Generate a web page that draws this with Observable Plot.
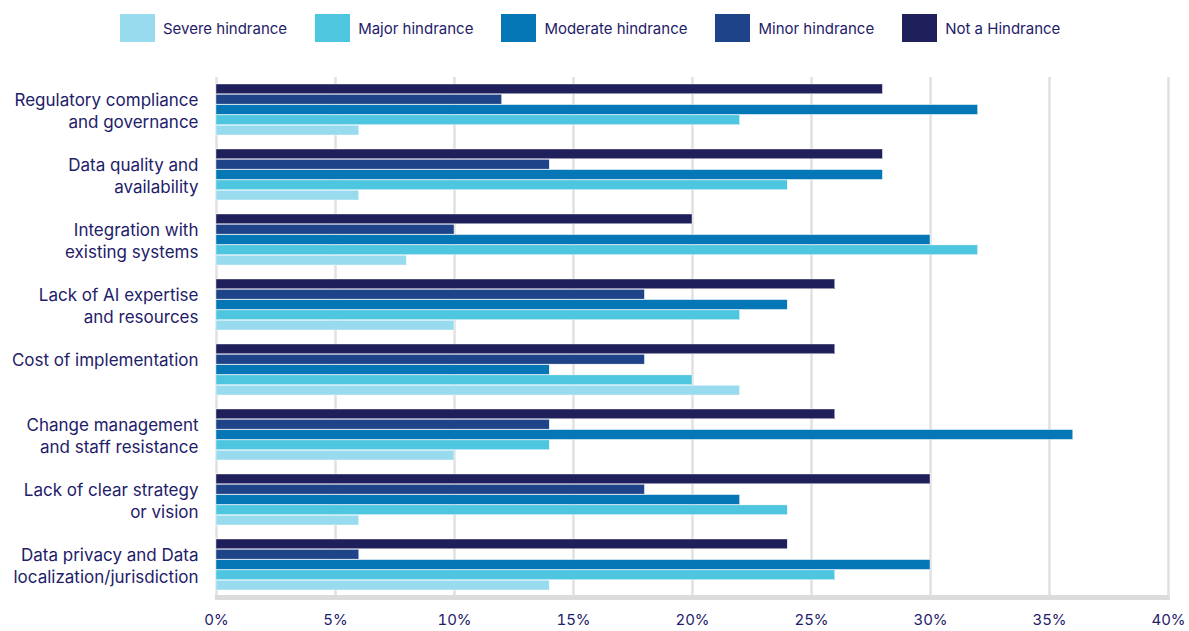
<!DOCTYPE html>
<html>
<head>
<meta charset="utf-8">
<script src="https://cdn.jsdelivr.net/npm/d3@7"></script>
<script src="https://cdn.jsdelivr.net/npm/@observablehq/plot@0.6"></script>
<style>
  html, body { margin: 0; padding: 0; background: #fff; }
  body { width: 1189px; height: 631px; overflow: hidden; position: relative; font-family: Inter, "Noto Sans", sans-serif; color: #1e2069; }
  #legend { display: flex; align-items: center; height: 56px; padding-left: 120px; box-sizing: border-box; }
  .item { display: flex; align-items: center; margin-right: 28px; font-size: 15px; }
  .sw { width: 35px; height: 28px; margin-right: 8px; }
  #chart svg { display: block; }
  #baseline { position: absolute; left: 215px; width: 955px; top: 597px; height: 3px; background: #dcdcdc; z-index: 5; }
</style>
</head>
<body>
<div id="legend"></div>
<div id="chart"></div>
<div id="baseline"></div>
<script>
const categories = [
  "Regulatory compliance\nand governance",
  "Data quality and\navailability",
  "Integration with\nexisting systems",
  "Lack of AI expertise\nand resources",
  "Cost of implementation\n",
  "Change management\nand staff resistance",
  "Lack of clear strategy\nor vision",
  "Data privacy and Data\nlocalization/jurisdiction"
];
const seriesNames = ["Severe hindrance", "Major hindrance", "Moderate hindrance", "Minor hindrance", "Not a Hindrance"];
const seriesColors = ["#99dbee", "#4fc6df", "#0677b6", "#1f4388", "#1f1f5c"];
// values in percent, one array per series, aligned with categories
const severe   = [6, 6, 8, 10, 22, 10, 6, 14];
const major    = [22, 24, 32, 22, 20, 14, 24, 26];
const moderate = [32, 28, 30, 24, 14, 36, 22, 30];
const minor    = [12, 14, 10, 18, 18, 14, 18, 6];
const notH     = [28, 28, 20, 26, 26, 26, 30, 24];
const xTicks = [0, 5, 10, 15, 20, 25, 30, 35, 40];

const seriesValues = [severe, major, moderate, minor, notH];
const rows = [];
categories.forEach((c, i) => {
  seriesNames.forEach((s, j) => rows.push({category: c, series: s, value: seriesValues[j][i]}));
});

// legend
const leg = document.getElementById("legend");
seriesNames.forEach((s, j) => {
  const it = document.createElement("div");
  it.className = "item";
  it.innerHTML = `<div class="sw" style="background:${seriesColors[j]}"></div><span>${s}</span>`;
  leg.appendChild(it);
});

const yOrder = seriesNames.slice().reverse();
const lastCat = categories[categories.length - 1];

const H = 575, MT = 20, MB = 34;
const facetH = (H - MT - MB) / categories.length;

const chart = Plot.plot({
  width: 1189,
  height: H,
  marginLeft: 216,
  marginRight: 21,
  marginTop: MT,
  marginBottom: MB,
  style: {fontFamily: "Inter, 'Noto Sans', sans-serif", color: "#1e2069", fontSize: "15px", background: "#fff"},
  x: {domain: [0, 40], ticks: xTicks, tickFormat: d => d + "%", axis: null},
  fy: {domain: categories, padding: 0, axis: null},
  y: {domain: yOrder, axis: null, paddingInner: 0.05, paddingOuter: 0.68, round: false},
  color: {domain: seriesNames, range: seriesColors},
  marks: [
    Plot.ruleX(xTicks, {stroke: "#e1e1e1", strokeWidth: 2.5}),
    Plot.barX(rows, {fy: "category", y: "series", x: "value", fill: "series", stroke: "#ffffff", strokeWidth: 0.4}),
    Plot.ruleY([lastCat], {fy: d => d, y: null, dy: facetH / 2 - 1, stroke: "#dcdcdc", strokeWidth: 3, insetLeft: -1.2, insetRight: -1.2}),
    Plot.axisFy({anchor: "left", tickSize: 0, tickPadding: 18, fontSize: 17, lineHeight: 1.3, textAnchor: "end", fill: "#1e2069", label: null}),
    Plot.axisX({anchor: "bottom", ticks: xTicks, tickFormat: d => d + "%", tickSize: 0, tickPadding: 17, fontSize: 15, fill: "#1e2069", label: null, facetAnchor: "bottom"})
  ]
});
document.getElementById("chart").appendChild(chart);
</script>
</body>
</html>
